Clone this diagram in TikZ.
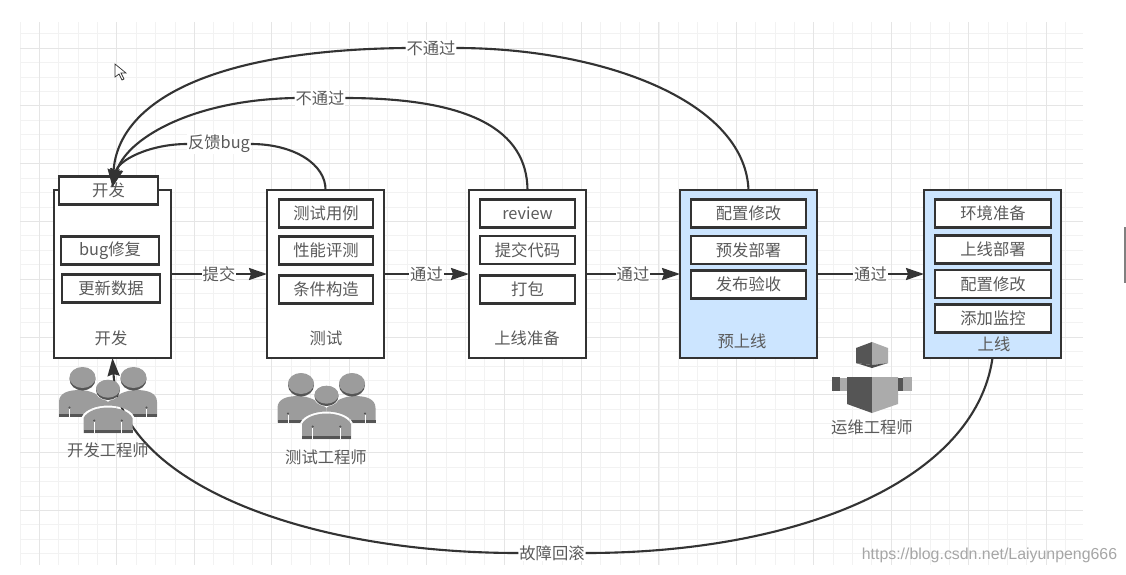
\documentclass[tikz,border=0pt]{standalone}
\usepackage{fontspec}
\setmainfont{Noto Sans CJK SC}
\newfontfamily\markfont{Liberation Sans}
\usetikzlibrary{arrows.meta}

\newcommand{\px}{0.025cm}
\definecolor{inkgray}{HTML}{5A5A5A}
\definecolor{linegray}{HTML}{333333}
\definecolor{stageblue}{HTML}{CCE5FF}
\definecolor{icongray}{HTML}{9C9C9C}
\definecolor{iconlight}{HTML}{ABABAB}
\definecolor{icondark}{HTML}{555555}

\tikzset{
	stage/.style={draw=linegray, line width=1.5pt, fill=white, minimum height=168*\px, minimum width=117*\px, inner sep=0, outer sep=0},
	stagewide/.style={stage, fill=stageblue, minimum width=137*\px},
	taskbox/.style={draw=linegray, line width=1.5pt, fill=white, minimum height=28*\px, inner sep=0, outer sep=0, text=inkgray, font=\fontsize{11.6}{13}\selectfont},
	caption/.style={text=inkgray, inner sep=1pt, font=\fontsize{11.6}{13}\selectfont},
	flowlbl/.style={caption, fill=white, inner sep=.5pt},
	flow/.style={draw=linegray, line width=1.5pt},
	flowtip/.style={flow, -{Stealth[length=18*\px, width=12*\px, inset=2*\px]}},
	gridminor/.style={draw=black!5, line width=.5pt},
	gridmajor/.style={draw=black!10, line width=.7pt},
	pics/people/.style={code={
		% back pair, cut away round the front figure so that the page shows through
		\begin{scope}[even odd rule]
			\clip (-60,-40) rectangle (60,60)
				(0,-1) ellipse (13.5 and 11.5)
				(-26.5,48) -- (-26.5,27) .. controls (-23,19) and (-10,15.5) .. (0,15.5) .. controls (10,15.5) and (23,19) .. (26.5,27) -- (26.5,48) -- cycle;
			\foreach \sx in {-1,1} {
				\fill[icongray] ({\sx*49},26.5) -- ({\sx*49},12) .. controls ({\sx*49},3) and ({\sx*40},0) .. ({\sx*28},0) .. controls ({\sx*18},0) and ({\sx*8},5) .. ({\sx*0},12) -- ({\sx*0},26.5) -- cycle;
				\fill[icondark] ({\sx*49},23.5) rectangle ({\sx*22},26.5);
				\fill[white] ({\sx*39},19) rectangle ({\sx*38},26.5);
				\fill[icondark] ({\sx*38.5},17.5) circle (1.2);
			}
		\end{scope}
		\foreach \sx in {-1,1} {
			\fill[icondark] ({\sx*25.5},-11) ellipse (13 and 11.5);
			\fill[icongray] ({\sx*25.5},-12.5) ellipse (13 and 10.5);
		}
		% front figure
		\fill[icondark] (0,0) ellipse (12 and 10);
		\fill[icongray] (0,-1.3) ellipse (12 and 9);
		\fill[icongray] (-24.5,43) -- (-24.5,28) .. controls (-21,21) and (-10,17.5) .. (0,17.5) .. controls (10,17.5) and (21,21) .. (24.5,28) -- (24.5,43) -- cycle;
		\fill[icondark] (-24.5,40) rectangle (24.5,43);
		\foreach \sx in {-1,1} {
			\fill[white] ({\sx*14.3},32) rectangle ({\sx*13.3},43);
			\fill[icondark] ({\sx*13.8},30.5) circle (1.2);
		}
	}},
}

\begin{document}
\begin{tikzpicture}[x=\px, y=-\px]
		\useasboundingbox (0,0) rectangle (1126,574);
		\fill[white] (0,0) rectangle (1126,574);

		% Grid behind everything
		\foreach \i in {0,...,54} \draw[gridminor] ({20+19.36*\i},22) -- ({20+19.36*\i},565);
		\foreach \i in {0,...,36} \draw[gridminor] (20,{33.5+14.45*\i}) -- (1083,{33.5+14.45*\i});
		\foreach \i in {0,...,13} \draw[gridmajor] ({39.4+77.44*\i},22) -- ({39.4+77.44*\i},565);
		\foreach \i in {0,...,8} \draw[gridmajor] (20,{48+57.8*\i}) -- (1083,{48+57.8*\i});

		% Stages
		\node[stage] (dev) at (112.5,274) {};
		\node[stage] (test) at (325.5,274) {};
		\node[stage] (prep) at (527.5,274) {};
		\node[stagewide] (pre) at (748.5,274) {};
		\node[stagewide] (online) at (992.5,274) {};

		\node[caption] (devcap) at (111,338) {开发};
		\node[caption] (testcap) at (326,338) {测试};
		\node[caption] (prepcap) at (527,338) {上线准备};
		\node[caption] (precap) at (742,341) {预上线};
		\node[caption] (onlinecap) at (994,344) {上线};

		% Tasks in each stage
		\node[taskbox, minimum width=99*\px] (devhead) at (108.5,190.5) {开发};
		\node[taskbox, minimum width=98*\px] (devbug) at (110,250.5) {bug修复};
		\node[taskbox, minimum width=98*\px] (devdata) at (111,288.5) {更新数据};

		\node[taskbox, minimum width=94*\px] (testcase) at (326,213.5) {测试用例};
		\node[taskbox, minimum width=94*\px] (testperf) at (326,250.5) {性能评测};
		\node[taskbox, minimum width=94*\px] (testcond) at (326,289.5) {条件构造};

		\node[taskbox, minimum width=95*\px] (prepreview) at (527.5,213.5) {review};
		\node[taskbox, minimum width=95*\px] (prepcode) at (527.5,250) {提交代码};
		\node[taskbox, minimum width=95*\px] (preppack) at (527.5,289.5) {打包};

		\node[taskbox, minimum width=115*\px] (preconf) at (748.5,213.5) {配置修改};
		\node[taskbox, minimum width=115*\px] (predeploy) at (748.5,250) {预发部署};
		\node[taskbox, minimum width=115*\px] (precheck) at (748.5,284.5) {发布验收};

		\node[taskbox, minimum width=116*\px] (onenv) at (993,213.5) {环境准备};
		\node[taskbox, minimum width=116*\px] (ondeploy) at (993,249.5) {上线部署};
		\node[taskbox, minimum width=116*\px] (onconf) at (993,284) {配置修改};
		\node[taskbox, minimum width=116*\px] (onwatch) at (993,318.5) {添加监控};

		% Forward flow
		\draw[flowtip] (dev) -- (test) node[flowlbl, pos=.5] (lblcommit) {提交};
		\draw[flowtip] (test) -- (prep) node[flowlbl, pos=.5] (lblpassa) {通过};
		\draw[flowtip] (prep) -- (pre) node[flowlbl, pos=.5] (lblpassb) {通过};
		\draw[flowtip] (pre) -- (online) node[flowlbl, pos=.5] (lblpassc) {通过};

		% Return paths
		\coordinate (devin) at (112.5,187);
		\node[flowlbl] (lblbug) at (219,144) {反馈bug};
		\node[flowlbl] (lblfaila) at (320,98) {不通过};
		\node[flowlbl] (lblfailb) at (431,48) {不通过};
		\node[flowlbl] (lblroll) at (552,553) {故障回滚};

		\draw[flow] (test.north) .. controls (326,165) and (295,144) .. (lblbug.east);
		\draw[flowtip] (lblbug.west) .. controls (150,144) and (118,160) .. (devin);
		\draw[flow] (prep.north) .. controls (527,130) and (470,98) .. (lblfaila.east);
		\draw[flowtip] (lblfaila.west) .. controls (190,100) and (125,140) .. (devin);
		\draw[flow] (pre.north) .. controls (745,100) and (600,48) .. (lblfailb.east);
		\draw[flowtip] (lblfailb.west) .. controls (215,50) and (118,100) .. (devin);
		\draw[flow] (online.south) .. controls (975,480) and (800,553) .. (lblroll.east);
		\draw[flowtip] (lblroll.west) .. controls (300,553) and (120,480) .. (dev.south);

		% Engineers
		\pic at (108,390) {people};
		\pic at (326.5,396) {people};
		\node[caption] (devman) at (108,450) {开发工程师};
		\node[caption] (testman) at (326,457) {测试工程师};

		% Ops figure
		\fill[icondark] (872,342) -- (856,348) -- (856,363) -- (872,365) -- cycle;
		\fill[iconlight] (872,342) -- (888,348) -- (888,363) -- (872,365) -- cycle;
		\fill[black!70] (856,363) -- (872,365) -- (888,363) -- (872,368) -- cycle;
		\fill[icondark] (847,377) -- (872,377) -- (872,413) -- (847,404) -- cycle;
		\fill[iconlight] (898,377) -- (872,377) -- (872,413) -- (898,404) -- cycle;
		\fill[icondark] (832,377) rectangle (840,391);
		\fill[iconlight] (840,378) rectangle (847,391);
		\fill[icondark] (898,378) rectangle (903,391);
		\fill[iconlight] (903,377) rectangle (912,391);
		\node[caption] (opsman) at (872,427) {运维工程师};

		% Cursor and window edge
		\draw[linegray, line width=.5pt, fill=white] (115,64) -- (115,77) -- (119,74) -- (122,80) -- (124,79) -- (121,73) -- (126,73) -- cycle;
		\draw[gray, line width=1pt] (1125,227) -- (1125,283);

		\node[text=black!35, inner sep=0, font=\markfont\fontsize{11.3}{14}\selectfont] (wmark) at (989.5,555) {https://blog.csdn.net/Laiyunpeng666};
	\end{tikzpicture}
\end{document}
